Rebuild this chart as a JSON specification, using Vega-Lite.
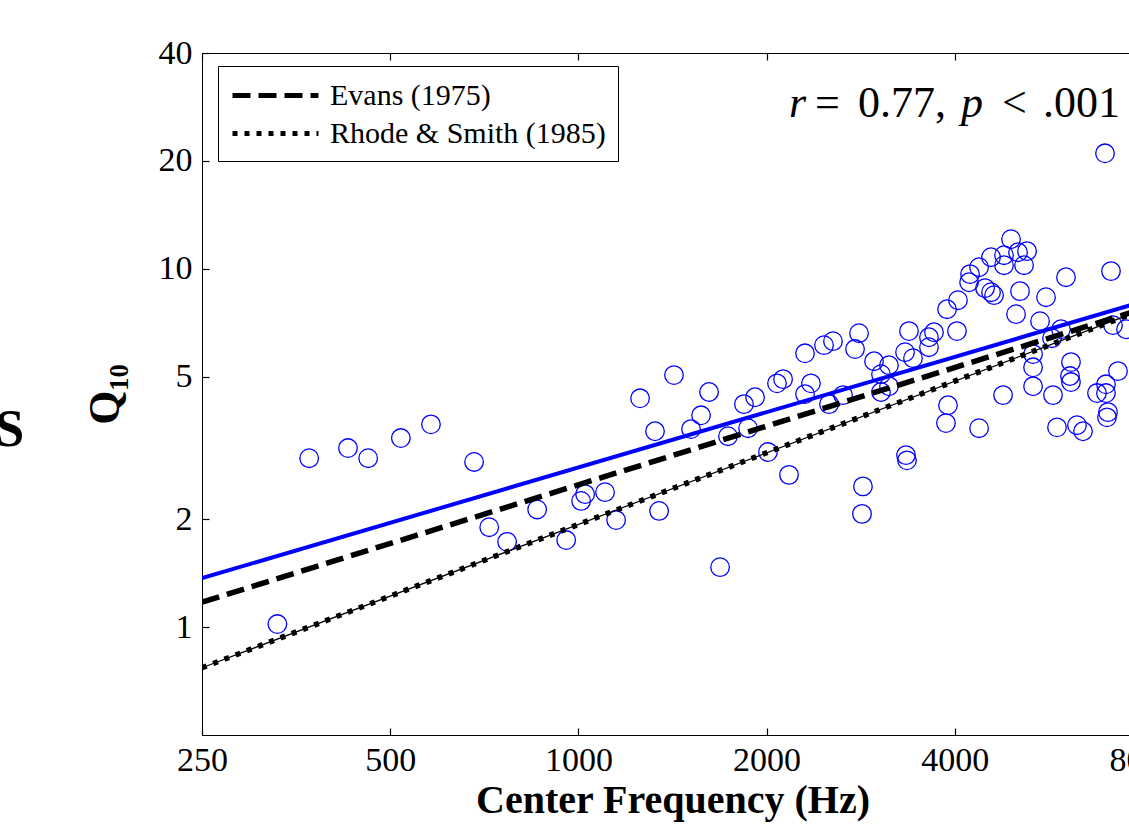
{
  "$schema": "https://vega.github.io/schema/vega-lite/v6.json",
  "width": 941,
  "height": 682,
  "autosize": {"type": "none"},
  "padding": {"left": 202, "top": 53, "right": 0, "bottom": 89},
  "background": "white",
  "title": {"text": "S", "orient": "left", "angle": 0, "anchor": "middle", "align": "right", "baseline": "middle", "font": "Liberation Serif", "fontSize": 52, "fontWeight": "bold", "color": "black", "offset": 30, "dy": 36},
  "config": {
    "view": {"stroke": "black", "strokeWidth": 1},
    "axis": {"domain": false, "ticks": true, "tickColor": "black", "tickWidth": 1.2, "grid": false, "labelFont": "Liberation Serif", "labelFontSize": 34, "labelColor": "black", "titleFont": "Liberation Serif", "titleFontWeight": "bold", "titleColor": "black"}
  },
  "datasets": {
    "points": [
      {"f": 330, "q": 1.02}, {"f": 371, "q": 2.96}, {"f": 428, "q": 3.16}, {"f": 461, "q": 2.96},
      {"f": 520, "q": 3.37}, {"f": 581, "q": 3.68}, {"f": 681, "q": 2.89}, {"f": 720, "q": 1.90},
      {"f": 769, "q": 1.73}, {"f": 859, "q": 2.13}, {"f": 956, "q": 1.75}, {"f": 1010, "q": 2.25},
      {"f": 1025, "q": 2.35}, {"f": 1103, "q": 2.38}, {"f": 1149, "q": 1.99}, {"f": 1255, "q": 4.35},
      {"f": 1326, "q": 3.52}, {"f": 1346, "q": 2.11}, {"f": 1422, "q": 5.05}, {"f": 1514, "q": 3.57},
      {"f": 1571, "q": 3.90}, {"f": 1618, "q": 4.53}, {"f": 1685, "q": 1.47}, {"f": 1735, "q": 3.41},
      {"f": 1840, "q": 4.19}, {"f": 1868, "q": 3.59}, {"f": 1917, "q": 4.38}, {"f": 2010, "q": 3.08},
      {"f": 2078, "q": 4.79}, {"f": 2125, "q": 4.92}, {"f": 2172, "q": 2.66}, {"f": 2304, "q": 5.81},
      {"f": 2304, "q": 4.47}, {"f": 2355, "q": 4.79}, {"f": 2471, "q": 6.12}, {"f": 2554, "q": 6.28},
      {"f": 2517, "q": 4.19}, {"f": 2650, "q": 4.44}, {"f": 2770, "q": 5.97}, {"f": 2811, "q": 6.61},
      {"f": 2852, "q": 2.47}, {"f": 2842, "q": 2.07}, {"f": 2971, "q": 5.52}, {"f": 3048, "q": 5.08},
      {"f": 3048, "q": 4.53}, {"f": 3139, "q": 5.38}, {"f": 3139, "q": 4.70}, {"f": 3330, "q": 5.85},
      {"f": 3342, "q": 3.02}, {"f": 3354, "q": 2.92}, {"f": 3379, "q": 6.70}, {"f": 3429, "q": 5.63},
      {"f": 3637, "q": 6.04}, {"f": 3637, "q": 6.44}, {"f": 3705, "q": 6.65}, {"f": 3887, "q": 7.71},
      {"f": 4047, "q": 8.17}, {"f": 4032, "q": 6.70}, {"f": 3901, "q": 4.16}, {"f": 3872, "q": 3.71},
      {"f": 4216, "q": 9.17}, {"f": 4231, "q": 9.66}, {"f": 4374, "q": 10.10}, {"f": 4374, "q": 3.59},
      {"f": 4471, "q": 8.83}, {"f": 4571, "q": 8.60}, {"f": 4622, "q": 8.44}, {"f": 4571, "q": 10.77},
      {"f": 4778, "q": 4.44}, {"f": 4795, "q": 10.91}, {"f": 4795, "q": 10.23}, {"f": 4920, "q": 12.09},
      {"f": 5012, "q": 7.47}, {"f": 5049, "q": 11.12}, {"f": 5086, "q": 8.66}, {"f": 5162, "q": 10.23},
      {"f": 5219, "q": 11.20}, {"f": 5336, "q": 5.78}, {"f": 5336, "q": 5.31}, {"f": 5336, "q": 4.70},
      {"f": 5475, "q": 7.14}, {"f": 5597, "q": 8.33}, {"f": 5722, "q": 6.40}, {"f": 5743, "q": 4.44},
      {"f": 5828, "q": 3.61}, {"f": 5914, "q": 6.78}, {"f": 6024, "q": 9.47}, {"f": 6136, "q": 5.49},
      {"f": 6114, "q": 5.02}, {"f": 6136, "q": 4.83}, {"f": 6273, "q": 3.66}, {"f": 6414, "q": 3.52},
      {"f": 6753, "q": 4.50}, {"f": 6955, "q": 21.0}, {"f": 6980, "q": 4.76}, {"f": 6980, "q": 4.50},
      {"f": 7032, "q": 3.98}, {"f": 7006, "q": 3.85}, {"f": 7110, "q": 9.85}, {"f": 7163, "q": 6.96},
      {"f": 7296, "q": 5.18}, {"f": 7515, "q": 6.78}
    ],
    "lines": [
      {"line": "fit", "f": 250, "q": 1.37}, {"line": "fit", "f": 8000, "q": 8.1},
      {"line": "Evans (1975)", "f": 250, "q": 1.174}, {"line": "Evans (1975)", "f": 8000, "q": 7.73},
      {"line": "Rhode & Smith (1985)", "f": 250, "q": 0.77}, {"line": "Rhode & Smith (1985)", "f": 8000, "q": 7.70}
    ],
    "anno": [{"note": "r = 0.77, p < .001"}]
  },
  "layer": [
    {
      "data": {"name": "points"},
      "mark": {"type": "point", "shape": "circle", "filled": false, "color": "#0000ff", "strokeWidth": 1.3, "size": 345, "opacity": 1, "clip": true},
      "encoding": {
        "x": {"field": "f", "type": "quantitative", "scale": {"type": "log", "domain": [250, 8000], "nice": false},
              "axis": {"orient": "bottom", "values": [250, 500, 1000, 2000, 4000, 8000], "format": "d", "offset": -7, "tickSize": 7, "labelPadding": 8, "labelFlush": false, "labelOverlap": false, "title": "Center Frequency (Hz)", "titleFontSize": 40, "titlePadding": 3}},
        "y": {"field": "q", "type": "quantitative", "scale": {"type": "log", "domain": [0.5, 40], "nice": false},
              "axis": {"values": [1, 2, 5, 10, 20, 40], "format": "d", "offset": -7, "tickSize": 7, "labelPadding": 10, "labelFlush": false, "labelOverlap": false, "title": "Q₁₀", "titleFontSize": 44, "titlePadding": 31}}
      }
    },
    {
      "data": {"name": "lines"},
      "transform": [{"filter": "datum.line === 'Rhode & Smith (1985)'"}],
      "mark": {"type": "line", "color": "black", "strokeWidth": 1.2, "clip": true},
      "encoding": {
        "x": {"field": "f", "type": "quantitative", "axis": null},
        "y": {"field": "q", "type": "quantitative"}
      }
    },
    {
      "data": {"name": "lines"},
      "transform": [{"filter": "datum.line !== 'fit'"}],
      "mark": {"type": "line", "color": "black", "strokeWidth": 5.5, "strokeCap": "butt", "clip": true},
      "encoding": {
        "x": {"field": "f", "type": "quantitative", "axis": null},
        "y": {"field": "q", "type": "quantitative"},
        "strokeDash": {"field": "line", "type": "nominal",
          "scale": {"domain": ["Evans (1975)", "Rhode & Smith (1985)"], "range": [[18, 8], [5, 7]]},
          "legend": {"title": null, "orient": "none", "legendX": 16, "legendY": 13, "strokeColor": "black", "fillColor": "white", "padding": 12, "cornerRadius": 0, "symbolType": "M-1,0H4.73", "symbolSize": 900, "symbolStrokeWidth": 5, "symbolStrokeColor": "black", "labelFont": "Liberation Serif", "labelFontSize": 30, "labelColor": "black", "labelOffset": 65, "rowPadding": 5, "labelLimit": 600}}
      }
    },
    {
      "data": {"name": "lines"},
      "transform": [{"filter": "datum.line === 'fit'"}],
      "mark": {"type": "line", "color": "#0000ff", "strokeWidth": 4, "clip": true},
      "encoding": {
        "x": {"field": "f", "type": "quantitative",
              "axis": {"orient": "top", "values": [250, 500, 1000, 2000, 4000, 8000], "offset": -7, "tickSize": 7, "labels": false, "title": null}},
        "y": {"field": "q", "type": "quantitative"}
      }
    },
    {
      "data": {"name": "anno"},
      "mark": {"type": "text", "text": "r", "font": "Liberation Serif", "fontStyle": "italic", "fontSize": 44, "align": "left", "baseline": "alphabetic", "color": "black", "dx": 0},
      "encoding": {"x": {"datum": 2172, "type": "quantitative", "axis": null}, "y": {"datum": 26.5, "type": "quantitative"}}
    },
    {
      "data": {"name": "anno"},
      "mark": {"type": "text", "text": "=", "font": "Liberation Serif", "fontSize": 44, "align": "left", "baseline": "alphabetic", "color": "black", "dx": 26},
      "encoding": {"x": {"datum": 2172, "type": "quantitative", "axis": null}, "y": {"datum": 26.5, "type": "quantitative"}}
    },
    {
      "data": {"name": "anno"},
      "mark": {"type": "text", "text": "0.77,", "font": "Liberation Serif", "fontSize": 44, "align": "left", "baseline": "alphabetic", "color": "black", "dx": 69},
      "encoding": {"x": {"datum": 2172, "type": "quantitative", "axis": null}, "y": {"datum": 26.5, "type": "quantitative"}}
    },
    {
      "data": {"name": "anno"},
      "mark": {"type": "text", "text": "p", "font": "Liberation Serif", "fontStyle": "italic", "fontSize": 44, "align": "left", "baseline": "alphabetic", "color": "black", "dx": 172},
      "encoding": {"x": {"datum": 2172, "type": "quantitative", "axis": null}, "y": {"datum": 26.5, "type": "quantitative"}}
    },
    {
      "data": {"name": "anno"},
      "mark": {"type": "text", "text": "<", "font": "Liberation Serif", "fontSize": 44, "align": "left", "baseline": "alphabetic", "color": "black", "dx": 213},
      "encoding": {"x": {"datum": 2172, "type": "quantitative", "axis": null}, "y": {"datum": 26.5, "type": "quantitative"}}
    },
    {
      "data": {"name": "anno"},
      "mark": {"type": "text", "text": ".001", "font": "Liberation Serif", "fontSize": 44, "align": "left", "baseline": "alphabetic", "color": "black", "dx": 254},
      "encoding": {"x": {"datum": 2172, "type": "quantitative", "axis": null}, "y": {"datum": 26.5, "type": "quantitative"}}
    }
  ],
  "resolve": {"axis": {"x": "independent"}}
}
